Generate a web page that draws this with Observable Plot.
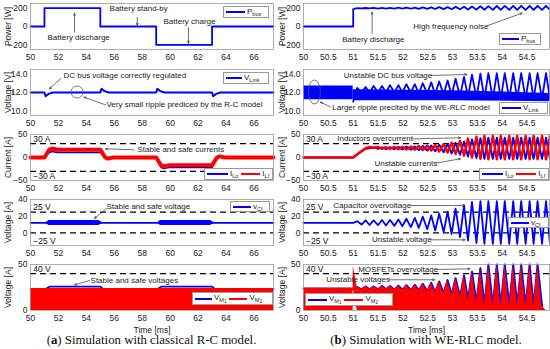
<!DOCTYPE html>
<html><head><meta charset="utf-8">
<script src="https://cdn.jsdelivr.net/npm/d3@7"></script>
<script src="https://cdn.jsdelivr.net/npm/@observablehq/plot@0.6"></script>
<style>
body{margin:0;background:#fff;}
#fig{position:relative;width:550px;height:349px;overflow:hidden;font-family:"Liberation Sans",Arial,sans-serif;background:#fff;}
.panel{position:absolute;}
.legend{position:absolute;background:#fff;border:1px solid #9a9a9a;font-size:8px;color:#222;display:flex;align-items:center;gap:1px;padding:0 1px 0 2px;box-sizing:border-box;white-space:nowrap;overflow:visible;}
.legend sub{font-size:5.5px;vertical-align:-2px;}
.legend sub sub{font-size:4.5px;vertical-align:-1px;}
.cap{position:absolute;font-family:"Liberation Serif","Times New Roman",serif;font-size:12.8px;text-align:center;color:#111;}
</style></head><body><div id="fig"></div>
<script>
// ---------- axes ----------
const xTicksL = [50,52,54,56,58,60,62,64,66];
const xTicksR = [50,50.5,51,51.5,52,52.5,53,53.5,54,54.5];
const yTicksP = [-200,0,200];
const yTicksV = [10,12,14];
const yTicksI = [-50,0,50];
const yTicksC = [0,20,40];
const yTicksM = [0,50];

// ---------- (a) classical R-C model ----------
const tPbusL = [50,51,51,55,55,59,59,63,63,67.4];
const pbusL  = [0,0,200,200,0,0,-200,-200,0,0];

const tVlinkL = [50,51.0,51.08,51.3,51.6,55.0,55.08,55.3,55.6,59.0,59.08,59.3,59.6,63.0,63.08,63.3,63.6,67.4];
const vlinkL  = [12,12,11.6,11.85,12,12,12.4,12.15,12,12,12.4,12.15,12,12,11.6,11.85,12,12];

const tIL  = [50,51.0,51.35,51.55,51.9,55.0,55.35,55.55,55.9,59.0,59.35,59.55,59.9,63.0,63.35,63.55,63.9,67.4];
const ilfL = [0,0,17,19.5,17,17,0,-2.5,0,0,-17,-19.5,-17,-17,0,2.5,0,0];
const iloL = [0,0,11,13,11,11,0,-2,0,0,-22,-24,-22,-22,0,2,0,0];

const tVcfL = [50,67.4];
const vcfL  = [12,12];
const bandT   = [51.1,51.3,54.9,55.2,59.1,59.3,62.9,63.2];
const bandLo  = [12,9,9,12,12,9,9,12];
const bandHi  = [12,15,15,12,12,15,15,12];
const bandSeg = [1,1,1,1,2,2,2,2];

const tVm2L = [50,67.4];
const vm2L  = [24,24];
const tVm1L = [50,51.1,51.4,55.0,55.2,59.1,59.4,63.0,63.2,67.4];
const vm1L  = [23.5,23.5,26,26,23.5,23.5,26,26,23.5,23.5];

// ---------- (b) WE-RLC model ----------
const tPre = [50,51.0];
const pbusPre = [0,0];
const vlinkPreLo = [11.2,11.2];
const vlinkPreHi = [12.7,12.7];
const iPre = [0,0];
const vcfPre = [12,12];
const vmPre = [24,24];

// half-cycle instants of the oscillation after the step at 51 ms
const tH = [51.00,51.08,51.17,51.25,51.33,51.41,51.50,51.58,51.66,51.74,51.83,51.91,51.99,52.07,52.16,52.24,52.32,52.40,52.49,52.57,52.65,52.73,52.82,52.90,52.98,53.06,53.15,53.23,53.31,53.39,53.48,53.56,53.64,53.72,53.81,53.89,53.97,54.05,54.14,54.22,54.30,54.38,54.47,54.55,54.63,54.71,54.80,54.88,54.96];
const pbusR = [190,200,196,201,196,202,195,202,195,203,194,204,194,205,193,206,192,207,191,208,190,210,189,211,188,213,187,215,185,218,183,220,182,222,181,223,181,224,180,224,180,225,180,225,180,225,180,225,180];
const vlinkR = [11.0,12.5,12.0,12.6,12.0,12.7,12.0,12.7,12.0,12.8,12.0,12.8,12.0,12.9,12.0,12.9,11.9,13.0,11.9,13.1,11.8,13.2,11.8,13.3,11.7,13.5,11.6,13.7,11.5,13.95,11.4,14.05,11.3,14.1,11.3,14.1,11.3,14.1,11.3,14.1,11.3,14.1,11.3,14.1,11.3,14.1,11.3,14.1,11.3];
const coreT = [51.0,53.0,54.95];
const coreLo = [11.1,11.1,11.0];
const coreHi = [12.3,12.2,11.9];
const ilfR = [0,7,14,20,23,21,23,19,22.5,18.5,23,18,23.5,17.5,24,17,25,16,26,15,27,13,29,11,32,8,36,4,41,0,45,-3,47,-4,47,-4,47,-4,47,-4,47,-4,47,-4,47,-4,47,-4,47];
const iloR = [0,6,13,19,20,22,19,22,18.5,22.5,18,23,17.5,23.5,17,24,16,25,15,26,13.5,27.5,11.5,29.5,9,32,6,35,2,39,-1,42,-3,43,-3,43,-3,43,-3,43,-3,43,-3,43,-3,43,-3,43,-3];
const vcfR = [12,14,10,15,9.5,15,9.5,15.5,9,15.5,8.5,16,8,17,7,18,6,19.5,4.5,21,3,23,1,25.5,-1.5,29,-5,33,-9,37,-12,38,-13,38,-13,38,-13,38,-13,38,-13,38,-13,38,-13,38,-13,38,-13];
const vmR = [24,25.5,23,26,23,26,23,26.5,23,26.5,22.5,27,22.5,27.5,22,28,22,29,21,30,20,31.5,19,33,17,35,15,38,12,42,9,46,6,50,5,50,5,50,5,50,5,50,5,50,5,50,5];

// ---------- annotations (data coordinates) ----------
const annL1 = [{text:"Battery discharge",x:51.22,y:-120},{text:"Battery stand-by",x:55.66,y:192},{text:"Battery charge",x:59.52,y:54}];
const arrL1 = [{x1:53.15,y1:-62,x2:53.15,y2:145},{x1:57.64,y1:98,x2:57.64,y2:15},{x1:61.31,y1:-11,x2:61.31,y2:-182}];
const annL2 = [{text:"DC bus voltage correctly regulated",x:52.36,y:13.85},{text:"Very small ripple prediced by the R-C model",x:55.44,y:10.66}];
const arrL2 = [{x1:52.15,y1:13.5,x2:51.36,y2:12.4},{x1:55.37,y1:10.66,x2:53.82,y2:11.49}];
const ellL2 = [{x:53.37,y:12.0,rx:6,ry:6}];
const annL3 = [{text:"Stable and safe currents",x:57.66,y:16.7}];
const limL3 = [{text:"30 A",x:50.2,y:40},{text:"\u221230 A",x:50.2,y:-40}];
const arrL3 = [{x1:57.4,y1:16.7,x2:55.37,y2:18.9}];
const annL4 = [{text:"Stable and safe voltage",x:55.44,y:32}];
const limL4 = [{text:"25 V",x:50.2,y:31},{text:"\u221225 V",x:50.2,y:-9.5}];
const arrL4 = [{x1:55.44,y1:29.2,x2:54.58,y2:17.3}];
const annL5 = [{text:"Stable and safe voltages",x:54.3,y:32.6}];
const limL5 = [{text:"40 V",x:50.2,y:44.6}];
const arrL5 = [{x1:54.25,y1:32.6,x2:53.15,y2:27.9}];

const annR1 = [{text:"Battery discharge",x:50.78,y:-145},{text:"High frequency noise",x:52.21,y:0}];
const arrR1 = [{x1:51.38,y1:-76,x2:51.38,y2:155},{x1:53.71,y1:11,x2:54.40,y2:145}];
const annR2 = [{text:"Unstable DC bus voltage",x:50.81,y:13.85},{text:"Larger ripple precited by the WE-RLC model",x:50.58,y:10.4}];
const arrR2 = [{x1:52.56,y1:13.85,x2:53.29,y2:13.96},{x1:50.54,y1:10.45,x2:50.34,y2:10.95}];
const ellR2 = [{x:50.23,y:12.0,rx:6,ry:12}];
const annR3 = [{text:"Inductors overcurrent",x:50.68,y:40.6},{text:"Unstable currents",x:51.43,y:-12.4}];
const limR3 = [{text:"30 A",x:50.05,y:40},{text:"\u221230 A",x:50.05,y:-40}];
const arrR3 = [{x1:52.2,y1:40.6,x2:53.16,y2:42.8},{x1:52.68,y1:-12,x2:53.16,y2:-2.8}];
const annR4 = [{text:"Capacitor overvoltage",x:50.6,y:32.8},{text:"Unstable voltage",x:51.38,y:-8.2}];
const limR4 = [{text:"25 V",x:50.05,y:31},{text:"\u221225 V",x:50.05,y:-9.5}];
const arrR4 = [{x1:52.15,y1:32.8,x2:53.25,y2:32.8},{x1:52.55,y1:-8.2,x2:53.25,y2:-8.2}];
const annR5 = [{text:"MOSFETs overvoltage",x:51.1,y:44.6},{text:"Unstable voltages",x:50.46,y:33.4}];
const limR5 = [{text:"40 V",x:50.05,y:44.6}];
const arrR5 = [{x1:52.7,y1:44.6,x2:53.35,y2:45.3},{x1:51.72,y1:33.4,x2:52.64,y2:33.4}];

// ---------- helpers ----------
const fig = document.getElementById("fig");
const BLUE = "#0000ff", RED = "#ff0000";
const rows = (t, v) => t.map((x, i) => ({t: x, v: v[i]}));
const FONT = "'Liberation Sans', Arial, sans-serif";

function annMarks(ann, arr, lim) {
  const m = [];
  if (lim) m.push(Plot.text(lim, {x:"x", y:"y", text:"text", textAnchor:"start", fontSize:8.5, fill:"#111"}));
  if (arr) m.push(Plot.arrow(arr, {x1:"x1", y1:"y1", x2:"x2", y2:"y2", stroke:"#333", strokeWidth:0.7, headLength:5, headAngle:45}));
  if (ann) m.push(Plot.text(ann, {x:"x", y:"y", text:"text", textAnchor:"start", fontSize:8, fill:"#222"}));
  return m;
}

function panel({col, top, yDomain, yTicks, yLabel, marks, last, ells}) {
  const left = col === 0;
  const mb = last ? 26 : 17;
  const svg = Plot.plot({
    width: 275, height: 3 + 46 + mb,
    marginLeft: left ? 30 : 28, marginRight: left ? 2 : 1, marginTop: 3, marginBottom: mb,
    style: {background: "transparent", fontFamily: FONT, fontSize: "8.5px", color: "#222", overflow: "visible"},
    x: {domain: left ? [50, 67.4] : [50, 54.95], ticks: left ? xTicksL : xTicksR, tickSize: 0, tickPadding: 4,
        tickFormat: d => String(d),
        label: last ? "Time [ms]" : null, labelAnchor: "center", labelOffset: 22, labelArrow: false},
    y: {domain: yDomain, ticks: yTicks, tickSize: 0, tickPadding: 3, label: yLabel, labelAnchor: "center",
        labelOffset: left ? 26 : 25, labelArrow: false},
    marks: [...marks, Plot.frame({stroke: "#9a9a9a", strokeWidth: 0.8})]
  });
  if (ells) {
    const sx = svg.scale("x"), sy = svg.scale("y");
    for (const e of ells) {
      d3.select(svg).append("ellipse").attr("cx", sx.apply(e.x)).attr("cy", sy.apply(e.y))
        .attr("rx", e.rx).attr("ry", e.ry).attr("fill", "none").attr("stroke", "#555").attr("stroke-width", 0.8);
    }
  }
  const div = document.createElement("div");
  div.className = "panel";
  div.style.left = (left ? 0 : 275) + "px";
  div.style.top = (top - 3) + "px";
  div.appendChild(svg);
  fig.appendChild(div);
}

function legend(x, y, w, h, items) {
  const d = document.createElement("div");
  d.className = "legend";
  Object.assign(d.style, {left: x + "px", top: y + "px", width: w + "px", height: h + "px"});
  d.innerHTML = items.map(it => `<svg width="${it.len}" height="4" style="flex:none"><line x1="0" y1="2" x2="${it.len}" y2="2" stroke="${it.color}" stroke-width="2"/></svg><span style="margin:0 2px 0 1px">${it.label}</span>`).join("");
  fig.appendChild(d);
}

// ---------- (a) panels ----------
panel({col:0, top:3, yDomain:[-250,250], yTicks:yTicksP, yLabel:"Power [W]", marks:[
  Plot.line(rows(tPbusL, pbusL), {x:"t", y:"v", stroke:BLUE, strokeWidth:1.8}),
  ...annMarks(annL1, arrL1)
]});
panel({col:0, top:69, yDomain:[9.5,14.5], yTicks:yTicksV, yLabel:"Voltage [V]", ells:ellL2, marks:[
  Plot.line(rows(tVlinkL, vlinkL), {x:"t", y:"v", stroke:BLUE, strokeWidth:2}),
  ...annMarks(annL2, arrL2)
]});
panel({col:0, top:134, yDomain:[-50,50], yTicks:yTicksI, yLabel:"Current [A]", marks:[
  Plot.ruleY([30,-30], {stroke:"#000", strokeWidth:1.3, strokeDasharray:"6,4"}),
  Plot.line(rows(tIL, iloL), {x:"t", y:"v", stroke:BLUE, strokeWidth:1.5}),
  Plot.line(rows(tIL, ilfL), {x:"t", y:"v", stroke:RED, strokeWidth:4}),
  ...annMarks(annL3, arrL3, limL3)
]});
panel({col:0, top:199, yDomain:[-15,40], yTicks:yTicksC, yLabel:"Voltage [A]", marks:[
  Plot.ruleY([25,0], {stroke:"#000", strokeWidth:1.3, strokeDasharray:"6,4"}),
  Plot.line(rows(tVcfL, vcfL), {x:"t", y:"v", stroke:BLUE, strokeWidth:1.8}),
  Plot.areaY(bandT.map((t,i)=>({t, lo:bandLo[i], hi:bandHi[i], s:bandSeg[i]})), {x:"t", y1:"lo", y2:"hi", z:"s", fill:BLUE}),
  ...annMarks(annL4, arrL4, limL4)
]});
panel({col:0, top:264, yDomain:[0,50], yTicks:yTicksM, yLabel:"Voltage [A]", last:true, marks:[
  Plot.ruleY([40], {stroke:"#000", strokeWidth:1.3, strokeDasharray:"6,4"}),
  Plot.line(rows(tVm1L, vm1L), {x:"t", y:"v", stroke:BLUE, strokeWidth:1.8}),
  Plot.areaY(rows(tVm2L, vm2L), {x:"t", y:"v", fill:RED}),
  ...annMarks(annL5, arrL5, limL5)
]});

// ---------- (b) panels ----------
const osc = (pre, post) => [...rows(tPre, pre), ...rows(tH, post)];
panel({col:1, top:3, yDomain:[-250,250], yTicks:yTicksP, yLabel:"Power [W]", marks:[
  Plot.line(osc(pbusPre, pbusR), {x:"t", y:"v", stroke:BLUE, strokeWidth:1.8}),
  ...annMarks(annR1, arrR1)
]});
panel({col:1, top:69, yDomain:[9.5,14.5], yTicks:yTicksV, yLabel:"Voltage [V]", ells:ellR2, marks:[
  Plot.areaY(tPre.map((t,i)=>({t, lo:vlinkPreLo[i], hi:vlinkPreHi[i]})), {x:"t", y1:"lo", y2:"hi", fill:BLUE}),
  Plot.areaY(coreT.map((t,i)=>({t, lo:coreLo[i], hi:coreHi[i]})), {x:"t", y1:"lo", y2:"hi", fill:BLUE}),
  Plot.line(rows(tH, vlinkR), {x:"t", y:"v", stroke:BLUE, strokeWidth:1.8}),
  ...annMarks(annR2, arrR2)
]});
panel({col:1, top:134, yDomain:[-50,50], yTicks:yTicksI, yLabel:"Current [A]", marks:[
  Plot.ruleY([30,-30], {stroke:"#000", strokeWidth:1.3, strokeDasharray:"6,4"}),
  Plot.line(osc(iPre, iloR), {x:"t", y:"v", stroke:BLUE, strokeWidth:2}),
  Plot.line(osc(iPre, ilfR), {x:"t", y:"v", stroke:RED, strokeWidth:2.5}),
  ...annMarks(annR3, arrR3, limR3)
]});
panel({col:1, top:199, yDomain:[-15,40], yTicks:yTicksC, yLabel:"Voltage [A]", marks:[
  Plot.ruleY([25,0], {stroke:"#000", strokeWidth:1.3, strokeDasharray:"6,4"}),
  Plot.line(osc(vcfPre, vcfR), {x:"t", y:"v", stroke:BLUE, strokeWidth:1.8}),
  ...annMarks(annR4, arrR4, limR4)
]});
panel({col:1, top:264, yDomain:[0,50], yTicks:yTicksM, yLabel:"Voltage [A]", last:true, marks:[
  Plot.ruleY([40], {stroke:"#000", strokeWidth:1.3, strokeDasharray:"6,4"}),
  Plot.line(osc(vmPre, vmR), {x:"t", y:"v", stroke:BLUE, strokeWidth:2}),
  Plot.areaY(osc(vmPre, vmR), {x:"t", y:"v", fill:RED}),
  ...annMarks(annR5, arrR5, limR5)
]});

// ---------- legends ----------
legend(223, 6, 46, 12, [{color:BLUE, label:"P<sub>bus</sub>", len:19}]);
legend(499, 33, 42, 12, [{color:BLUE, label:"P<sub>bus</sub>", len:17}]);
legend(223, 72, 46, 12, [{color:BLUE, label:"V<sub>Link</sub>", len:16}]);
legend(499, 102, 49, 12, [{color:BLUE, label:"V<sub>Link</sub>", len:19}]);
legend(204, 168, 69, 12, [{color:BLUE, label:"I<sub>Lo</sub>", len:21}, {color:RED, label:"I<sub>Lf</sub>", len:19}]);
legend(479, 168, 70, 12, [{color:BLUE, label:"I<sub>Lo</sub>", len:21}, {color:RED, label:"I<sub>Lf</sub>", len:20}]);
legend(230, 201, 40, 11, [{color:BLUE, label:"v<sub>Cf</sub>", len:18}]);
legend(508, 217, 41, 11, [{color:BLUE, label:"v<sub>Cf</sub>", len:18}]);
legend(192, 292, 81, 13, [{color:BLUE, label:"V<sub>M<sub>1</sub></sub>", len:17}, {color:RED, label:"V<sub>M<sub>2</sub></sub>", len:18}]);
legend(305, 293, 88, 13, [{color:BLUE, label:"V<sub>M<sub>1</sub></sub>", len:19}, {color:RED, label:"V<sub>M<sub>2</sub></sub>", len:19}]);

// ---------- captions ----------
const caps = [
  {x:10, w:283, html:"(<b>a</b>) Simulation with classical R-C model."},
  {x:283, w:286, html:"(<b>b</b>) Simulation with WE-RLC model."}
];
for (const c of caps) {
  const d = document.createElement("div");
  d.className = "cap";
  Object.assign(d.style, {left: c.x + "px", width: c.w + "px", top: "333px"});
  d.innerHTML = c.html;
  fig.appendChild(d);
}
</script></body></html>
